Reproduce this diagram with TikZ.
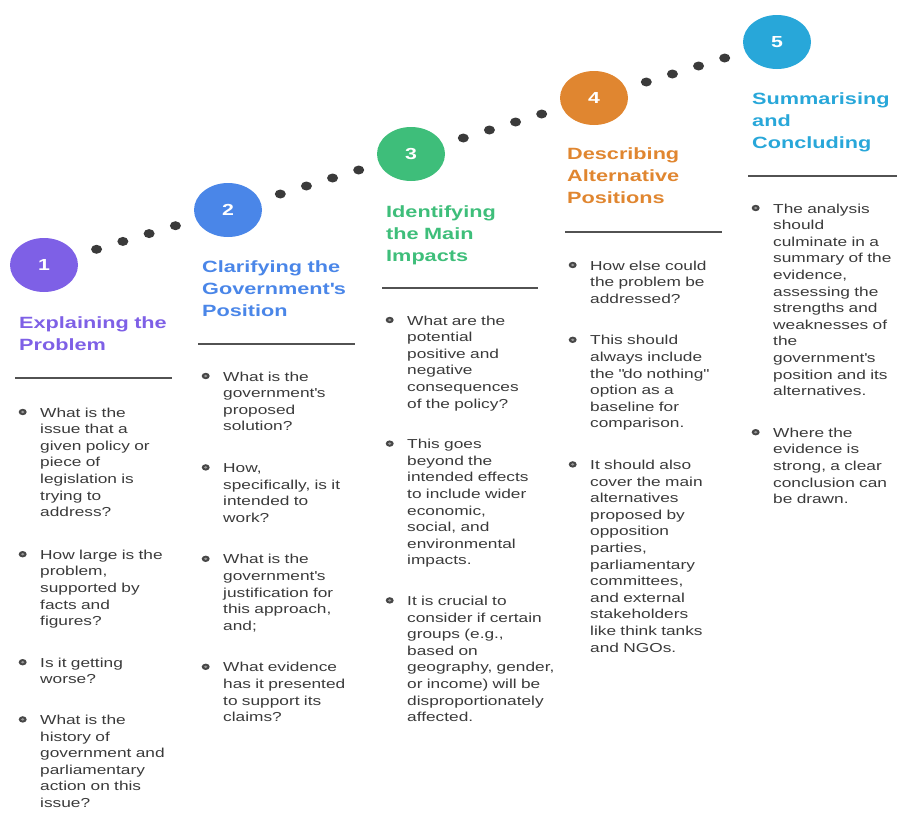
\documentclass[tikz,border=0pt]{standalone}
\usepackage{fontspec}
\setmainfont{Liberation Sans}[FakeStretch=1.33]
\usepackage{tikz}
\usetikzlibrary{shapes.geometric, calc}

\definecolor{stepone}{RGB}{126,96,230}
\definecolor{steptwo}{RGB}{74,134,232}
\definecolor{stepthree}{RGB}{62,190,122}
\definecolor{stepfour}{RGB}{224,134,48}
\definecolor{stepfive}{RGB}{40,167,217}
\definecolor{bodytext}{RGB}{58,58,58}
\definecolor{dotgray}{RGB}{58,58,58}

\newcommand{\bul}{\leavevmode\llap{\tikz[baseline=-5pt]{\fill[black!72] (0,0) ellipse [x radius=4pt, y radius=3.2pt];
    \fill[black!40] (0,0) ellipse [x radius=1.7pt, y radius=1.3pt];}\hspace{13.5pt}}}
\newcommand{\ap}{\textquotesingle}

\begin{document}
\begin{tikzpicture}[x=1pt, y=-1pt,
        badge/.style={ellipse, fill=#1, minimum width=68pt, minimum height=54pt,
            inner sep=0pt, text=white, font=\fontsize{16}{16}\selectfont\bfseries},
        heading/.style={anchor=base west, inner sep=0pt, text width=170pt, align=left,
            text=#1, font=\fontsize{16.3}{22}\selectfont\bfseries},
        points/.style={anchor=base west, inner sep=0pt, text width=150pt, align=left,
            text=bodytext, font=\fontsize{13}{16.6}\selectfont},
        rule/.style={line width=2.6pt, draw=black!68}]

        \useasboundingbox (0,0) rectangle (897,812);

        \node[badge=stepone]   (s1) at (44,265) {1};
        \node[badge=steptwo]   (s2) at (228,210) {2};
        \node[badge=stepthree] (s3) at (411,154) {3};
        \node[badge=stepfour]  (s4) at (594,98) {4};
        \node[badge=stepfive]  (s5) at (777,42) {5};

        \foreach \a/\b in {s1/s2, s2/s3, s3/s4, s4/s5}
            \foreach \k in {2,...,5}
                \fill[dotgray] ($(\a)!\k/7!(\b)$) ellipse [x radius=5.5pt, y radius=4.5pt];

        \node[heading=stepone]   (h1) at (19,328) {Explaining the\\ Problem};
        \node[heading=steptwo]   (h2) at (202,272) {Clarifying the\\ Government\ap s\\ Position};
        \node[heading=stepthree] (h3) at (386,217) {Identifying\\ the Main\\ Impacts};
        \node[heading=stepfour]  (h4) at (567,159) {Describing\\ Alternative\\ Positions};
        \node[heading=stepfive]  (h5) at (752,104) {Summarising\\ and\\ Concluding};

        \draw[rule]
            (15,378) -- (172,378)
            (198,344) -- (355,344)
            (382,288) -- (538,288)
            (565,232) -- (722,232)
            (748,176) -- (897,176);

        \node[points] (p1) at (40,417) {\bul What is the\\ issue that a\\ given policy or\\ piece of\\ legislation is\\ trying to\\ address?\\[26pt]
            \bul How large is the\\ problem,\\ supported by\\ facts and\\ figures?\\[25pt]
            \bul Is it getting\\ worse?\\[24pt]
            \bul What is the\\ history of\\ government and\\ parliamentary\\ action on this\\ issue?};

        \node[points] (p2) at (223,381) {\bul What is the\\ government\ap s\\ proposed\\ solution?\\[25pt]
            \bul How,\\ specifically, is it\\ intended to\\ work?\\[25pt]
            \bul What is the\\ government\ap s\\ justification for\\ this approach,\\ and;\\[25pt]
            \bul What evidence\\ has it presented\\ to support its\\ claims?};

        \node[points] (p3) at (407,325) {\bul What are the\\ potential\\ positive and\\ negative\\ consequences\\ of the policy?\\[24pt]
            \bul This goes\\ beyond the\\ intended effects\\ to include wider\\ economic,\\ social, and\\ environmental\\ impacts.\\[24pt]
            \bul It is crucial to\\ consider if certain\\ groups (e.g.,\\ based on\\ geography, gender,\\ or income) will be\\ disproportionately\\ affected.};

        \node[points] (p4) at (590,270) {\bul How else could\\ the problem be\\ addressed?\\[25pt]
            \bul This should\\ always include\\ the \textquotedbl do nothing\textquotedbl\\ option as a\\ baseline for\\ comparison.\\[25pt]
            \bul It should also\\ cover the main\\ alternatives\\ proposed by\\ opposition\\ parties,\\ parliamentary\\ committees,\\ and external\\ stakeholders\\ like think tanks\\ and NGOs.};

        \node[points] (p5) at (773,213) {\bul The analysis\\ should\\ culminate in a\\ summary of the\\ evidence,\\ assessing the\\ strengths and\\ weaknesses of\\ the\\ government\ap s\\ position and its\\ alternatives.\\[25pt]
            \bul Where the\\ evidence is\\ strong, a clear\\ conclusion can\\ be drawn.};

\end{tikzpicture}
\end{document}
